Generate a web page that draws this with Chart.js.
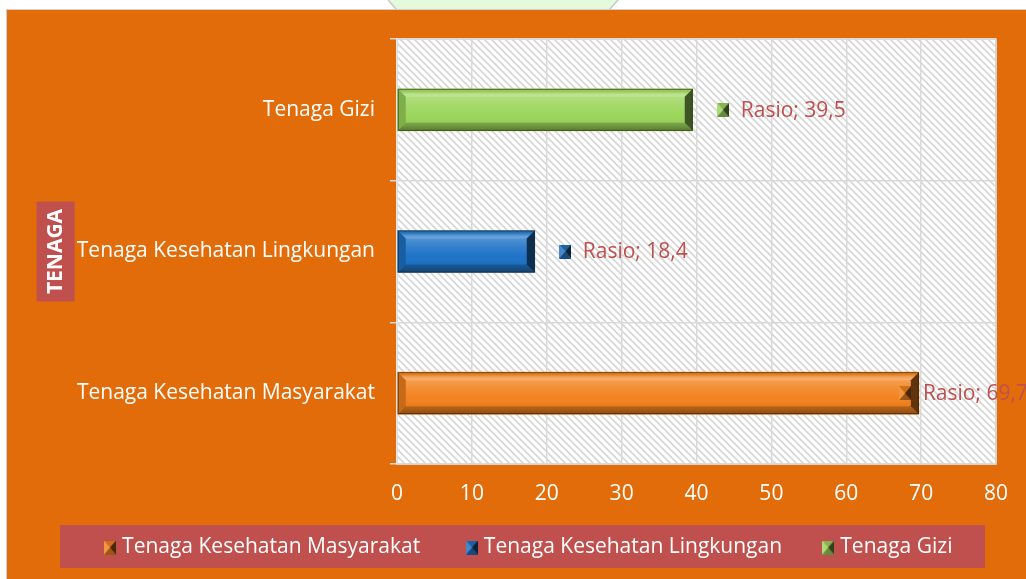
<!DOCTYPE html>
<html>
<head>
<meta charset="utf-8">
<script src="https://cdn.jsdelivr.net/npm/chart.js@4"></script>
<style>
  html, body { margin:0; padding:0; background:#ffffff; width:1026px; height:579px; overflow:hidden; }
  #wrap { position:absolute; left:6px; top:9px; border-left:1px solid #d0d0d0; border-top:1px solid #d0d0d0; width:1019px; height:569px; }
  #deco { position:absolute; left:0; top:0; }
  canvas { display:block; }
</style>
</head>
<body>
<svg id="deco" width="1026" height="10">
  <polygon points="388,0 618,0 609,10 397,10" fill="#e3fbdc" />
  <line x1="388" y1="0" x2="397" y2="10" stroke="#c8c8c8" stroke-width="1.5"/>
  <line x1="618" y1="0" x2="609" y2="10" stroke="#c8c8c8" stroke-width="1.5"/>
</svg>
<div id="wrap"><canvas id="c" width="1019" height="569"></canvas></div>
<script>
// ---- data ----
const categories = ['Tenaga Kesehatan Masyarakat', 'Tenaga Kesehatan Lingkungan', 'Tenaga Gizi'];
const seriesNames = ['Tenaga Kesehatan Masyarakat', 'Tenaga Kesehatan Lingkungan', 'Tenaga Gizi'];
const rasioValues = [69.7, 18.4, 39.5];
const labelPrefix = 'Rasio';
const xTicks = [0, 10, 20, 30, 40, 50, 60, 70, 80];
const axisTitle = 'TENAGA';
const seriesColors = ['#F2821E', '#1E73C6', '#9CD65C'];

const FONT = '"Open Sans", "DejaVu Sans", sans-serif';
const FS = 21;

function shade(hex, f) {
  const n = parseInt(hex.slice(1), 16);
  let r = (n >> 16) & 255, g = (n >> 8) & 255, b = n & 255;
  if (f < 0) { r = r * (1 + f); g = g * (1 + f); b = b * (1 + f); }
  else { r = r + (255 - r) * f; g = g + (255 - g) * f; b = b + (255 - b) * f; }
  return 'rgb(' + Math.round(r) + ',' + Math.round(g) + ',' + Math.round(b) + ')';
}

function makeMarker(color) {
  const w = 12, h = 14;
  const cv = document.createElement('canvas');
  cv.width = w; cv.height = h;
  const c = cv.getContext('2d');
  const cx = w / 2, cy = h / 2;
  const tri = (a, b, fill) => { c.beginPath(); c.moveTo(a[0], a[1]); c.lineTo(b[0], b[1]); c.lineTo(cx, cy); c.closePath(); c.fillStyle = fill; c.fill(); };
  tri([0, 0], [w, 0], shade(color, -0.15));
  tri([0, h], [w, h], shade(color, -0.35));
  tri([0, 0], [0, h], shade(color, 0.15));
  tri([w, 0], [w, h], shade(color, -0.7));
  return cv;
}
const markers = seriesColors.map(makeMarker);

// hatch pattern for plot area
function makePattern(ctx) {
  const s = 7;
  const t = document.createElement('canvas');
  t.width = s; t.height = s;
  const g = t.getContext('2d');
  g.fillStyle = '#ffffff'; g.fillRect(0, 0, s, s);
  g.strokeStyle = '#d6d6d6'; g.lineWidth = 1.6;
  g.beginPath();
  g.moveTo(-1, -1); g.lineTo(s + 1, s + 1);
  g.moveTo(-1, s - 1); g.lineTo(1, s + 1);
  g.moveTo(s - 1, -1); g.lineTo(s + 1, 1);
  g.stroke();
  return ctx.createPattern(t, 'repeat');
}

const bgPlugin = {
  id: 'bg',
  beforeDraw(chart) {
    const ctx = chart.ctx, a = chart.chartArea;
    ctx.save();
    ctx.fillStyle = '#E36C0A';
    ctx.fillRect(0, 0, chart.width, chart.height);
    ctx.fillStyle = makePattern(ctx);
    ctx.fillRect(a.left, a.top, a.right - a.left, a.bottom - a.top);
    ctx.strokeStyle = '#d9d9d9'; ctx.lineWidth = 1.5;
    ctx.strokeRect(a.left, a.top, a.right - a.left, a.bottom - a.top);
    // axis title box
    const ys = chart.scales.y;
    const tx = ys.left + 8 + 12.6;
    const cy = (a.top + a.bottom) / 2;
    ctx.fillStyle = '#C0504D';
    ctx.fillRect(tx - 19, cy - 50, 38, 100);
    // legend box
    const lg = chart.legend;
    ctx.fillRect(53, lg.top, 925, lg.bottom - lg.top);
    ctx.restore();
  }
};

const bevelPlugin = {
  id: 'bevel',
  afterDatasetsDraw(chart) {
    const ctx = chart.ctx;
    chart.data.datasets.forEach((ds, di) => {
      const meta = chart.getDatasetMeta(di);
      meta.data.forEach((el, i) => {
        if (ds.data[i] == null) return;
        const p = el.getProps(['x', 'y', 'base', 'height'], true);
        const L = Math.min(p.x, p.base), R = Math.max(p.x, p.base);
        const T = p.y - p.height / 2, B = p.y + p.height / 2;
        const b = Math.min(8, (R - L) / 2);
        ctx.save();
        const poly = (pts, fill) => { ctx.beginPath(); ctx.moveTo(pts[0][0], pts[0][1]); for (let k = 1; k < pts.length; k++) ctx.lineTo(pts[k][0], pts[k][1]); ctx.closePath(); ctx.fillStyle = fill; ctx.fill(); };
        const g = ctx.createLinearGradient(0, T + b, 0, B - b);
        g.addColorStop(0, 'rgba(255,255,255,0.22)');
        g.addColorStop(0.3, 'rgba(255,255,255,0.10)');
        g.addColorStop(0.7, 'rgba(255,255,255,0)');
        g.addColorStop(1, 'rgba(0,0,0,0.06)');
        ctx.fillStyle = g;
        ctx.fillRect(L + b, T + b, R - L - 2 * b, B - T - 2 * b);
        const gt = ctx.createLinearGradient(0, T, 0, T + b);
        gt.addColorStop(0, 'rgba(0,0,0,0.05)');
        gt.addColorStop(0.6, 'rgba(255,255,255,0.25)');
        gt.addColorStop(1, 'rgba(255,255,255,0.38)');
        poly([[L, T], [R, T], [R - b, T + b], [L + b, T + b]], gt);
        const gb = ctx.createLinearGradient(0, B - b, 0, B);
        gb.addColorStop(0, 'rgba(0,0,0,0.22)');
        gb.addColorStop(1, 'rgba(0,0,0,0.42)');
        poly([[L, B], [R, B], [R - b, B - b], [L + b, B - b]], gb);
        poly([[L, T], [L + b, T + b], [L + b, B - b], [L, B]], 'rgba(0,0,0,0.18)');
        poly([[R, T], [R - b, T + b], [R - b, B - b], [R, B]], 'rgba(0,0,0,0.6)');
        ctx.strokeStyle = 'rgba(40,25,0,0.55)';
        ctx.lineWidth = 1;
        ctx.strokeRect(L + 0.5, T + 0.5, R - L - 1, B - T - 1);

        // data label
        const txt = labelPrefix + '; ' + ds.data[i].toFixed(1).replace('.', ',');
        ctx.font = FS + 'px ' + FONT;
        const tw = ctx.measureText(txt).width;
        let mx = R + 24;
        if (mx + 25 + tw > chart.width) mx = R - 20;
        ctx.drawImage(markers[di], mx, p.y - 7);
        ctx.fillStyle = '#C0504D';
        ctx.textBaseline = 'middle';
        ctx.textAlign = 'left';
        ctx.fillText(txt, mx + 24, p.y + 1);
        ctx.restore();
      });
    });
  }
};

const datasets = seriesNames.map((name, si) => ({
  label: name,
  data: categories.map((c, ci) => (ci === si ? rasioValues[si] : null)),
  backgroundColor: seriesColors[si],
  borderWidth: 0,
  barThickness: 42,
  grouped: false,
  pointStyle: markers[si]
}));

const legendSpacers = ['       ', '      ', ''];

new Chart(document.getElementById('c'), {
  type: 'bar',
  data: { labels: categories, datasets: datasets },
  options: {
    indexAxis: 'y',
    responsive: false,
    animation: false,
    layout: { padding: { left: 28, right: 0, top: 29, bottom: 11 } },
    plugins: {
      tooltip: { enabled: false },
      legend: {
        position: 'bottom',
        labels: {
          color: '#ffffff',
          font: { family: FONT, size: FS },
          usePointStyle: true,
          boxWidth: 3,
          boxHeight: 20,
          padding: 12,
          generateLabels(chart) {
            return chart.data.datasets.map((ds, i) => ({
              text: ds.label + legendSpacers[i],
              fillStyle: ds.backgroundColor,
              strokeStyle: ds.backgroundColor,
              fontColor: '#ffffff',
              lineWidth: 0,
              pointStyle: markers[i],
              hidden: false,
              datasetIndex: i
            }));
          }
        }
      }
    },
    scales: {
      x: {
        min: xTicks[0],
        max: xTicks[xTicks.length - 1],
        afterBuildTicks(s) { s.ticks = xTicks.map(v => ({ value: v })); },
        ticks: { color: '#ffffff', font: { family: FONT, size: FS }, padding: 17 },
        grid: { color: '#d9d9d9', lineWidth: 1.5, drawTicks: false },
        border: { color: '#d9d9d9', width: 1.5 },
        afterFit(s) { s.height = 61; s.paddingRight = 30; }
      },
      y: {
        reverse: true,
        ticks: { color: '#ffffff', font: { family: FONT, size: FS }, padding: 15 },
        grid: { color: '#d9d9d9', lineWidth: 1.5, tickLength: 7, offset: true },
        border: { color: '#e6e6e6', width: 1.5 },
        title: {
          display: true,
          text: axisTitle,
          color: '#ffffff',
          font: { family: FONT, size: 21, weight: 'bold' },
          padding: { top: 8, bottom: 0 }
        },
        afterFit(s) { s.width = 362; }
      }
    }
  },
  plugins: [bgPlugin, bevelPlugin]
});
</script>
</body>
</html>
